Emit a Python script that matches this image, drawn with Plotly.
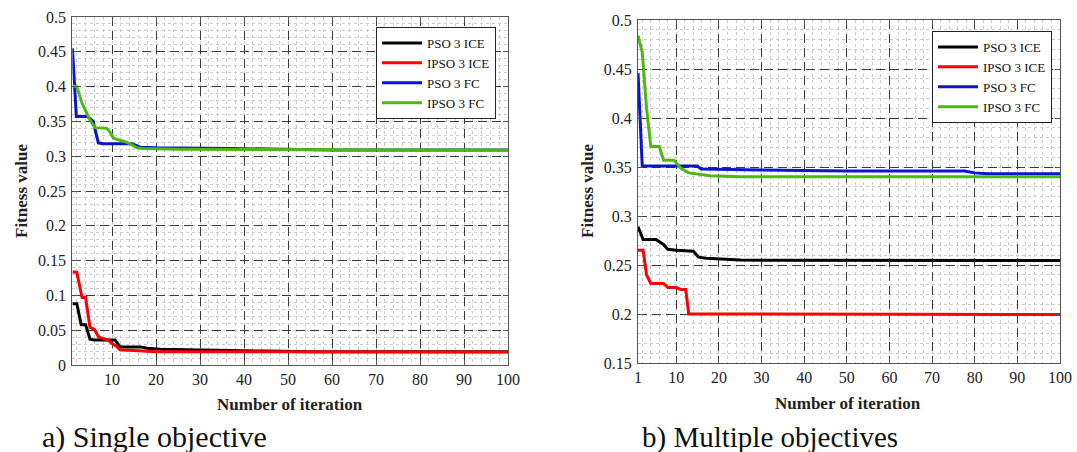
import plotly.graph_objects as go

# ---------------- data: a) Single objective ----------------
a_pso_ice_x = [1, 2, 3, 4, 5, 6, 10.7, 11.8, 16.4, 18, 21, 25, 30, 38, 45, 55, 100]
a_pso_ice_y = [0.088, 0.088, 0.058, 0.058, 0.037, 0.036, 0.036, 0.026, 0.026, 0.024, 0.0225, 0.022, 0.021, 0.0205, 0.020, 0.019, 0.019]

a_ipso_ice_x = [1, 2, 3.2, 4, 5, 6, 7, 8, 9, 10, 11, 11.8, 16, 20, 30, 100]
a_ipso_ice_y = [0.134, 0.133, 0.097, 0.097, 0.054, 0.051, 0.040, 0.038, 0.036, 0.031, 0.027, 0.022, 0.021, 0.019, 0.019, 0.0187]

a_pso_fc_x = [1, 1.9, 4.5, 5.7, 6.9, 8, 12, 14.5, 16.4, 20, 37, 60, 100]
a_pso_fc_y = [0.455, 0.357, 0.357, 0.350, 0.319, 0.318, 0.318, 0.318, 0.313, 0.312, 0.311, 0.309, 0.309]

a_ipso_fc_x = [1, 2, 3.2, 4, 5, 6.1, 8.8, 9.5, 10.3, 11.8, 13, 14, 15.7, 17, 25, 40, 100]
a_ipso_fc_y = [0.401, 0.400, 0.376, 0.366, 0.352, 0.341, 0.340, 0.335, 0.326, 0.323, 0.321, 0.318, 0.312, 0.311, 0.310, 0.3095, 0.309]

# ---------------- data: b) Multiple objectives ----------------
b_pso_ice_x = [1, 2.2, 5.2, 6.4, 7, 8, 10, 14, 15.2, 17, 20, 25, 100]
b_pso_ice_y = [0.289, 0.276, 0.276, 0.273, 0.271, 0.266, 0.265, 0.264, 0.258, 0.257, 0.256, 0.255, 0.2545]

b_ipso_ice_x = [1, 2.2, 3, 4, 7, 8, 10, 11, 12.2, 12.9, 30, 100]
b_ipso_ice_y = [0.265, 0.265, 0.240, 0.231, 0.231, 0.227, 0.227, 0.225, 0.225, 0.200, 0.200, 0.1995]

b_pso_fc_x = [1, 2, 14.9, 15.8, 30, 50, 77.6, 80, 83, 100]
b_pso_fc_y = [0.446, 0.351, 0.351, 0.348, 0.347, 0.346, 0.346, 0.344, 0.343, 0.343]

b_ipso_fc_x = [1, 2, 3, 4, 6, 7, 9.4, 11, 12.9, 18, 25, 100]
b_ipso_fc_y = [0.484, 0.467, 0.410, 0.371, 0.371, 0.357, 0.357, 0.349, 0.344, 0.341, 0.340, 0.340]

names = ["PSO 3 ICE", "IPSO 3 ICE", "PSO 3 FC", "IPSO 3 FC"]
colors = ["#000000", "#ff0000", "#0a14c8", "#4cb814"]

a_x_ticks = [10, 20, 30, 40, 50, 60, 70, 80, 90, 100]
a_y_ticks = [0, 0.05, 0.1, 0.15, 0.2, 0.25, 0.3, 0.35, 0.4, 0.45, 0.5]
a_y_labels = ["0", "0.05", "0.1", "0.15", "0.2", "0.25", "0.3", "0.35", "0.4", "0.45", "0.5"]
b_x_ticks = [1, 10, 20, 30, 40, 50, 60, 70, 80, 90, 100]
b_y_ticks = [0.15, 0.2, 0.25, 0.3, 0.35, 0.4, 0.45, 0.5]
b_y_labels = ["0.15", "0.2", "0.25", "0.3", "0.35", "0.4", "0.45", "0.5"]

SERIF = "Liberation Serif"
W, H = 1077, 452

fig = go.Figure()

a_series = [(a_pso_ice_x, a_pso_ice_y), (a_ipso_ice_x, a_ipso_ice_y),
            (a_pso_fc_x, a_pso_fc_y), (a_ipso_fc_x, a_ipso_fc_y)]
b_series = [(b_pso_ice_x, b_pso_ice_y), (b_ipso_ice_x, b_ipso_ice_y),
            (b_pso_fc_x, b_pso_fc_y), (b_ipso_fc_x, b_ipso_fc_y)]

for (xs, ys), n, c in zip(a_series, names, colors):
    fig.add_trace(go.Scatter(x=xs, y=ys, mode="lines", name=n,
                             line=dict(color=c, width=3),
                             xaxis="x", yaxis="y", legend="legend"))
for (xs, ys), n, c in zip(b_series, names, colors):
    fig.add_trace(go.Scatter(x=xs, y=ys, mode="lines", name=n,
                             line=dict(color=c, width=3),
                             xaxis="x2", yaxis="y2", legend="legend2"))

MINOR = dict(showgrid=True, gridcolor="#cccccc", gridwidth=1, griddash="dot", ticks="")


def axis_style(minor_dtick, **kw):
    d = dict(
        automargin=False,
        showline=True, linecolor="#555555", linewidth=1.2, mirror="ticks",
        ticks="inside", ticklen=5, tickcolor="#555555",
        showgrid=True, gridcolor="#3a3a3a", gridwidth=1, griddash="9px,5px",
        zeroline=False,
        tickfont=dict(family=SERIF, size=16, color="#222222"),
        minor=dict(MINOR, tick0=0, dtick=minor_dtick),
    )
    d.update(kw)
    return d


def px_x(p):
    return p / W


def px_y(p):
    return 1 - p / H


LEG_FONT = dict(family=SERIF, size=13, color="#111111")

fig.update_layout(
    width=W, height=H,
    margin=dict(l=0, r=0, t=0, b=0),
    paper_bgcolor="white", plot_bgcolor="white",
    xaxis=axis_style(2, domain=[px_x(72.4), px_x(508)], range=[1, 100], anchor="y",
                     tickmode="array", tickvals=a_x_ticks, ticklabelstandoff=0),
    yaxis=axis_style(0.01, domain=[px_y(365), px_y(17)], range=[0, 0.5], anchor="x",
                     tickmode="array", tickvals=a_y_ticks, ticktext=a_y_labels, ticklabelstandoff=2),
    xaxis2=axis_style(2, domain=[px_x(638), px_x(1060)], range=[1, 100], anchor="y2",
                      tickmode="array", tickvals=b_x_ticks, ticklabelstandoff=0),
    yaxis2=axis_style(0.01, domain=[px_y(363), px_y(20)], range=[0.15, 0.5], anchor="x2",
                      tickmode="array", tickvals=b_y_ticks, ticktext=b_y_labels, ticklabelstandoff=2),
    legend=dict(x=px_x(376), y=px_y(27), xanchor="left", yanchor="top",
                bgcolor="white", bordercolor="#222222", borderwidth=1,
                font=LEG_FONT, tracegroupgap=0, itemwidth=40),
    legend2=dict(x=px_x(932), y=px_y(31), xanchor="left", yanchor="top",
                 bgcolor="white", bordercolor="#222222", borderwidth=1,
                 font=LEG_FONT, tracegroupgap=0, itemwidth=40),
    showlegend=True,
)

ann_font_bold = dict(family=SERIF, size=17, color="#222222")
annotations = [
    dict(text="<b>Fitness value</b>", x=px_x(22), y=px_y(191), textangle=-90),
    dict(text="<b>Fitness value</b>", x=px_x(588), y=px_y(191), textangle=-90),
    dict(text="<b>Number of iteration</b>", x=px_x(290), y=px_y(404)),
    dict(text="<b>Number of iteration</b>", x=px_x(848), y=px_y(403)),
]
for a in annotations:
    fig.add_annotation(xref="paper", yref="paper", showarrow=False,
                       xanchor="center", yanchor="middle", font=ann_font_bold, **a)

fig.add_annotation(text="a) Single objective", xref="paper", yref="paper",
                   x=px_x(40), y=px_y(437), xanchor="left", yanchor="middle",
                   showarrow=False, font=dict(family=SERIF, size=30, color="#111111"))
fig.add_annotation(text="b) Multiple objectives", xref="paper", yref="paper",
                   x=px_x(640), y=px_y(437), xanchor="left", yanchor="middle",
                   showarrow=False, font=dict(family=SERIF, size=29, color="#111111"))

# remove the browser's default 8px body margin so the figure sits at the page origin
fig.write_html("out.html", config={"displayModeBar": False},
               post_script="document.body.style.margin='0';")
